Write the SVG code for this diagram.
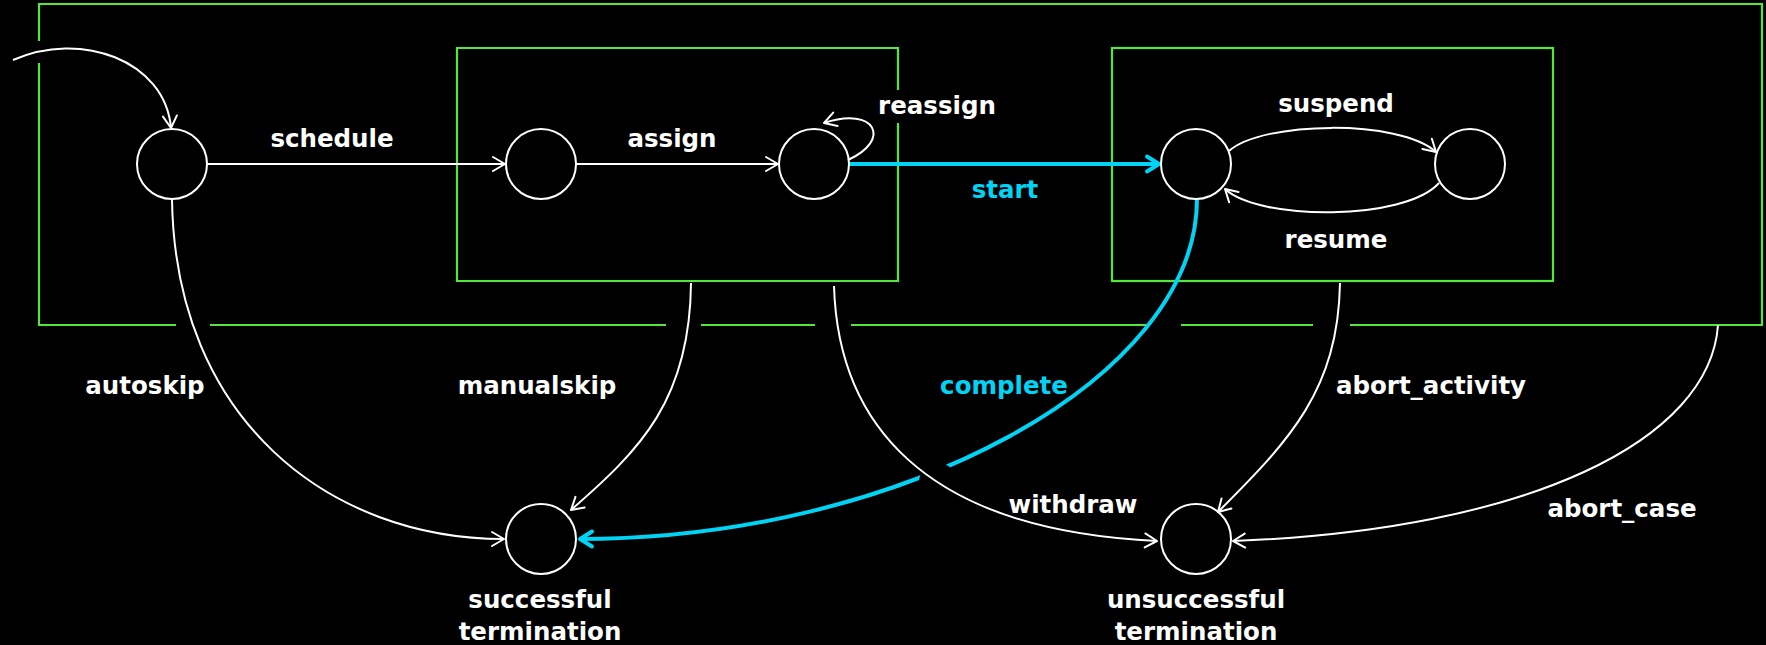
<svg xmlns="http://www.w3.org/2000/svg" width="1766" height="645" viewBox="0 0 1766 645">
<style>
.bg{fill:#000}
.box{fill:none;stroke:#55e63c;stroke-width:2.2}
.st{fill:none;stroke:#fff;stroke-width:2}
.e{fill:none;stroke:#fff;stroke-width:2}
.ec{fill:none;stroke:#00d3f3;stroke-width:4}
text{font-family:"DejaVu Sans","Liberation Sans",sans-serif;font-weight:bold;font-size:24.5px;fill:#fff;text-anchor:middle}
text.c{fill:#00d3f3}
</style>
<defs>
<marker id="aw" markerUnits="userSpaceOnUse" markerWidth="20" markerHeight="20" refX="0" refY="0" orient="auto" overflow="visible">
<path d="M -12 -7 L 0 0 L -12 7" fill="none" stroke="#fff" stroke-width="2" stroke-linecap="round" stroke-linejoin="round"/>
</marker>
<marker id="ac" markerUnits="userSpaceOnUse" markerWidth="20" markerHeight="20" refX="0" refY="0" orient="auto" overflow="visible">
<path d="M -13 -7.5 L -1 0 L -13 7.5" fill="none" stroke="#00d3f3" stroke-width="4" stroke-linecap="round" stroke-linejoin="round"/>
</marker>
<mask id="jump" maskUnits="userSpaceOnUse" x="0" y="0" width="1766" height="645">
<rect x="0" y="0" width="1766" height="645" fill="#fff"/>
<circle cx="938" cy="482" r="19" fill="#000"/>
</mask>
</defs>
<rect class="bg" x="0" y="0" width="1766" height="645"/>

<g id="containers">
<path id="outer" class="box" d="M 39 41 L 39 4 L 1762 4 L 1762 325 L 1350 325 M 1313 325 L 1181 325 M 1146 325 L 851 325 M 815 325 L 701 325 M 666 325 L 210 325 M 176 325 L 39 325 L 39 63"/>
<path id="box1" class="box" d="M 898 90 L 898 48 L 457 48 L 457 281 L 898 281 L 898 123"/>
<rect id="box2" class="box" x="1112" y="48" width="441" height="233"/>
</g>

<g id="connectors">
<path id="e-init" class="e" d="M 13 60 C 80 30, 165 60, 171 128" marker-end="url(#aw)"/>
<path id="e-schedule" class="e" d="M 207 164 L 505 164" marker-end="url(#aw)"/>
<path id="e-assign" class="e" d="M 576 164 L 778 164" marker-end="url(#aw)"/>
<path id="e-reassign" class="e" d="M 848 160 C 892 140, 876 106, 824 123" marker-end="url(#aw)"/>
<path id="e-start" class="ec" d="M 849 164 L 1160 164" marker-end="url(#ac)"/>
<path id="e-suspend" class="e" d="M 1229 151 C 1262 121, 1400 119, 1436 152" marker-end="url(#aw)"/>
<path id="e-resume" class="e" d="M 1439 183 C 1405 221, 1260 221, 1225 189" marker-end="url(#aw)"/>
<path id="e-autoskip" class="e" d="M 172 199 C 175 420, 330 539, 504 539" marker-end="url(#aw)"/>
<path id="e-manualskip" class="e" d="M 691 283 C 690 400, 640 450, 571 510" marker-end="url(#aw)"/>
<path id="e-complete" class="ec" mask="url(#jump)" d="M 1197 199 C 1197 380, 900 539, 579 539" marker-end="url(#ac)"/>
<path id="e-withdraw" class="e" d="M 834 286 C 838 420, 920 530, 1157 541" marker-end="url(#aw)"/>
<path id="e-abort-activity" class="e" d="M 1340 283 C 1338 390, 1290 440, 1218 512" marker-end="url(#aw)"/>
<path id="e-abort-case" class="e" d="M 1718 325 C 1710 440, 1530 530, 1233 541" marker-end="url(#aw)"/>
</g>

<g id="n-start"><circle class="st" cx="172" cy="164" r="35"/></g>
<g id="n-scheduled"><circle class="st" cx="541" cy="164" r="35"/></g>
<g id="n-assigned"><circle class="st" cx="814" cy="164" r="35"/></g>
<g id="n-started"><circle class="st" cx="1196" cy="164" r="35"/></g>
<g id="n-suspended"><circle class="st" cx="1470" cy="164" r="35"/></g>
<g id="n-success"><circle class="st" cx="541" cy="539" r="35"/><text x="540" y="608">successful</text><text x="540" y="640">termination</text></g>
<g id="n-fail"><circle class="st" cx="1196" cy="539" r="35"/><text x="1196" y="608">unsuccessful</text><text x="1196" y="640">termination</text></g>

<g id="labels">
<text x="332" y="147">schedule</text>
<text x="672" y="147">assign</text>
<text x="937" y="114">reassign</text>
<text class="c" x="1005" y="198">start</text>
<text x="1336" y="112">suspend</text>
<text x="1336" y="248">resume</text>
<text x="145" y="394">autoskip</text>
<text x="537" y="394">manualskip</text>
<text class="c" x="1004" y="394">complete</text>
<text x="1431" y="394">abort_activity</text>
<text x="1073" y="513">withdraw</text>
<text x="1622" y="517">abort_case</text>
</g>
</svg>
